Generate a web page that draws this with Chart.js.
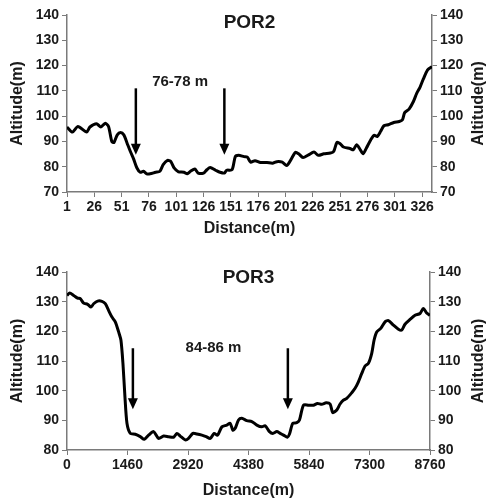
<!DOCTYPE html>
<html>
<head>
<meta charset="utf-8">
<script src="https://cdn.jsdelivr.net/npm/chart.js@4/dist/chart.umd.min.js"></script>
<style>
  body { margin: 0; background: #fff; }
  .box { width: 487px; height: 250px; }
</style>
</head>
<body>
<div class="box"><canvas id="por2Chart" width="487" height="250"></canvas></div>
<div class="box"><canvas id="por3Chart" width="487" height="250"></canvas></div>
<script>
// POR2 profile: distance (m) and altitude (m)
const por2Distance = [1, 6, 11, 19, 22, 28, 32, 36, 39, 42, 44, 47, 50, 53, 56, 59, 62, 65, 68, 71, 74, 77, 82, 86, 89, 93, 96, 99, 103, 108, 111, 114, 118, 121, 126, 129, 132, 137, 141, 145, 147, 152, 155, 158, 163, 166, 169, 173, 178, 184, 189, 193, 198, 202, 205, 210, 213, 217, 222, 227, 231, 236, 242, 245, 248, 251, 254, 260, 263, 266, 269, 272, 275, 279, 282, 285, 288, 291, 295, 300, 305, 308, 310, 314, 318, 321, 324, 327, 331, 335];
const por2Altitude = [95.7, 93.7, 95.9, 93.7, 95.7, 97.0, 95.7, 97.2, 95.9, 90.0, 89.6, 92.6, 93.5, 92.6, 89.3, 86.0, 83.0, 79.5, 77.8, 78.2, 77.2, 77.2, 77.8, 78.2, 80.8, 82.5, 82.1, 79.5, 78.0, 77.8, 77.2, 78.2, 79.1, 77.5, 77.5, 78.8, 79.7, 78.6, 77.8, 77.5, 78.6, 78.8, 84.0, 84.5, 84.0, 83.8, 81.8, 82.4, 81.7, 81.7, 81.4, 82.0, 81.8, 80.5, 82.1, 85.7, 85.1, 83.6, 84.7, 85.8, 84.5, 85.1, 85.4, 86.0, 89.6, 89.1, 87.8, 87.2, 86.7, 88.7, 87.0, 85.1, 87.4, 90.7, 92.4, 92.0, 94.0, 96.2, 96.6, 97.5, 97.9, 98.6, 101.4, 102.8, 105.8, 109.0, 111.4, 114.6, 118.3, 119.6];
const por2Ticks = [1, 26, 51, 76, 101, 126, 151, 176, 201, 226, 251, 276, 301, 326];
const por2Arrows = [64, 145];
const por2Label = '76-78 m';

// POR3 profile
const por3Distance = [0, 64, 161, 257, 321, 402, 498, 579, 643, 739, 844, 924, 1005, 1085, 1165, 1246, 1302, 1350, 1398, 1447, 1527, 1648, 1768, 1865, 1969, 2090, 2210, 2331, 2451, 2572, 2652, 2733, 2853, 2933, 3038, 3134, 3255, 3359, 3456, 3552, 3633, 3737, 3858, 3938, 4002, 4059, 4139, 4219, 4340, 4460, 4581, 4701, 4782, 4886, 4967, 5063, 5144, 5224, 5320, 5369, 5449, 5545, 5610, 5706, 5827, 5947, 6044, 6148, 6253, 6349, 6413, 6510, 6590, 6670, 6751, 6872, 6952, 7032, 7113, 7193, 7273, 7354, 7410, 7474, 7571, 7675, 7756, 7876, 7997, 8077, 8157, 8278, 8399, 8519, 8600, 8680, 8760];
const por3Altitude = [132.1, 132.9, 132.1, 131.2, 131.0, 129.5, 129.1, 128.2, 129.3, 130.2, 130.1, 129.3, 127.0, 124.8, 123.2, 119.8, 117.0, 109.2, 98.0, 89.0, 85.6, 85.3, 84.5, 83.6, 85.0, 86.2, 83.9, 84.7, 84.5, 84.3, 85.6, 84.7, 83.4, 83.9, 85.6, 85.4, 85.0, 84.5, 83.9, 85.6, 85.0, 87.8, 88.4, 89.0, 86.7, 87.3, 90.1, 90.7, 89.9, 89.6, 88.4, 87.8, 88.2, 86.2, 85.6, 86.2, 85.6, 85.0, 84.3, 85.4, 89.0, 89.2, 90.1, 95.1, 95.1, 95.1, 95.7, 95.4, 95.9, 95.5, 92.6, 93.5, 95.5, 96.8, 97.4, 99.3, 100.8, 103.0, 105.8, 108.3, 109.2, 112.6, 117.0, 119.8, 121.0, 123.2, 123.6, 122.1, 120.7, 120.4, 122.4, 124.0, 125.4, 126.0, 127.7, 126.2, 125.4];
const por3Ticks = [0, 1460, 2920, 4380, 5840, 7300, 8760];
const por3Arrows = [1590, 5330];
const por3Label = '84-86 m';

const FONT = '"Liberation Sans", Arial, sans-serif';
const TEXT = '#1a1a1a';
const AXIS = '#7a7a7a';

// titles, arrows and the range label drawn over the plot
const overlay = {
    id: 'overlay',
    afterDatasetsDraw(chart, args, opts) {
        const ctx = chart.ctx;
        const area = chart.chartArea;
        const x = chart.scales.x;
        const y = chart.scales.y;
        ctx.save();
        ctx.fillStyle = TEXT;
        ctx.textAlign = 'center';
        ctx.textBaseline = 'middle';

        ctx.font = 'bold 19px ' + FONT;
        ctx.fillText(opts.title, (area.left + area.right) / 2, area.top + opts.titleOffset);

        ctx.font = 'bold 15px ' + FONT;
        ctx.fillText(opts.label, x.getPixelForValue(opts.labelAt[0]), y.getPixelForValue(opts.labelAt[1]));

        ctx.strokeStyle = '#000';
        ctx.fillStyle = '#000';
        ctx.lineWidth = 2.5;
        opts.arrows.forEach(v => {
            const px = x.getPixelForValue(v);
            const top = y.getPixelForValue(opts.arrowFrom);
            const tip = y.getPixelForValue(opts.arrowTo);
            ctx.beginPath();
            ctx.moveTo(px, top);
            ctx.lineTo(px, tip - 8);
            ctx.stroke();
            ctx.beginPath();
            ctx.moveTo(px - 5, tip - 11);
            ctx.lineTo(px + 5, tip - 11);
            ctx.lineTo(px, tip);
            ctx.closePath();
            ctx.fill();
        });

        // right axis title, read bottom to top like the left one
        ctx.fillStyle = TEXT;
        ctx.font = 'bold 16px ' + FONT;
        ctx.translate(chart.width - 8, (area.top + area.bottom) / 2);
        ctx.rotate(-Math.PI / 2);
        ctx.fillText('Altitude(m)', 0, 0);
        ctx.restore();
    }
};

function buildChart(id, xs, ys, ticks, xMin, xMax, yMin, yMax, box, overlayOpts) {
    const ctx = document.getElementById(id).getContext('2d');
    const tickFont = { family: FONT, size: 14, weight: 'bold' };
    const titleFont = { family: FONT, size: 16, weight: 'bold' };
    const yAxis = (pos, width) => ({
        type: 'linear',
        position: pos,
        min: yMin,
        max: yMax,
        afterFit: scale => { scale.width = width; },
        ticks: { stepSize: 10, font: tickFont, color: TEXT, padding: 3 },
        grid: { drawOnChartArea: false, tickLength: 5, color: AXIS },
        border: { color: AXIS, width: 1.5 }
    });
    return new Chart(ctx, {
        type: 'line',
        data: {
            datasets: [{
                data: xs.map((v, i) => ({ x: v, y: ys[i] })),
                borderColor: '#000',
                borderWidth: 3,
                pointRadius: 0,
                tension: 0.25,
                yAxisID: 'y'
            }]
        },
        options: {
            responsive: false,
            animation: false,
            layout: { padding: { top: box.top, left: 0, right: 0, bottom: 0 } },
            plugins: {
                legend: { display: false },
                tooltip: { enabled: false },
                overlay: overlayOpts
            },
            scales: {
                x: {
                    type: 'linear',
                    min: xMin,
                    max: xMax,
                    afterBuildTicks: scale => { scale.ticks = ticks.map(v => ({ value: v })); },
                    afterFit: scale => { scale.height = box.bottom; },
                    ticks: { font: tickFont, color: TEXT, autoSkip: false, maxRotation: 0, padding: 2,
                        callback: v => String(v) },
                    grid: { drawOnChartArea: false, tickLength: 5, color: AXIS },
                    border: { color: AXIS, width: 1.5 },
                    title: { display: true, text: 'Distance(m)', font: titleFont, color: TEXT,
                        padding: { top: 2, bottom: box.xTitlePad } }
                },
                y: Object.assign(yAxis('left', box.left), {
                    title: { display: true, text: 'Altitude(m)', font: titleFont, color: TEXT, padding: { top: 8, bottom: 0 } }
                }),
                y1: yAxis('right', box.right)
            }
        },
        plugins: [overlay]
    });
}

buildChart('por2Chart', por2Distance, por2Altitude, por2Ticks, 1, 335, 70, 140,
    { top: 15, bottom: 58, left: 67, right: 55, xTitlePad: 12 },
    { title: 'POR2', titleOffset: 8, label: por2Label, labelAt: [104.5, 113.5], arrows: por2Arrows, arrowFrom: 111, arrowTo: 84.7 });

buildChart('por3Chart', por3Distance, por3Altitude, por3Ticks, 0, 8760, 80, 140,
    { top: 22, bottom: 50, left: 67, right: 57, xTitlePad: 0 },
    { title: 'POR3', titleOffset: 6, label: por3Label, labelAt: [3536, 114.5], arrows: por3Arrows, arrowFrom: 114.3, arrowTo: 93.7 });
</script>
</body>
</html>
